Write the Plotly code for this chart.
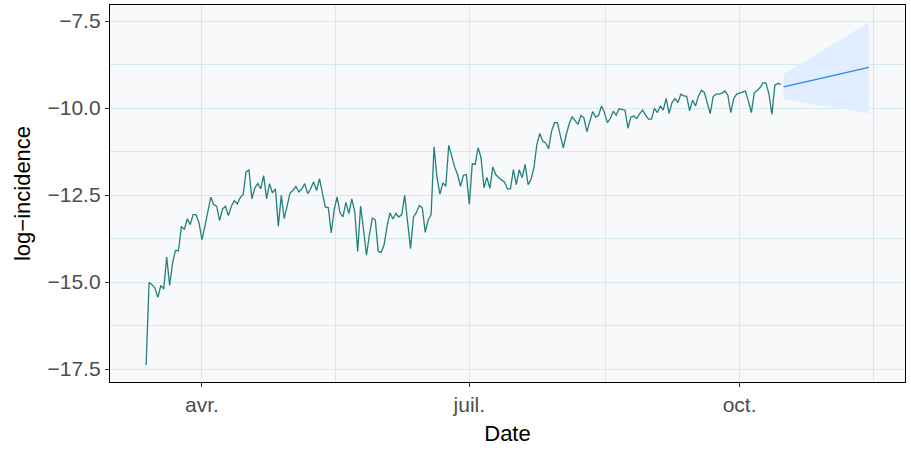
import pandas as pd
import plotly.graph_objects as go

# Daily log-incidence, one value per day starting on start_date
start_date = "2020-03-13"
log_incidence = [
    -17.38, -15.01, -15.08, -15.17, -15.44, -15.10, -15.20, -14.28, -15.10, -14.45,
    -14.09, -14.10, -13.40, -13.49, -13.18, -13.35, -13.06, -13.06, -13.30,
    -13.78, -13.40, -12.97, -12.56, -12.77, -12.82, -13.23, -12.90, -12.82, -13.09,
    -12.82, -12.66, -12.75, -12.58, -12.49, -11.84, -11.78, -12.61, -12.29, -12.17,
    -12.32, -11.94, -12.61, -12.17, -12.44, -12.32, -13.40, -12.51, -13.18, -12.77,
    -12.44, -12.36, -12.25, -12.41, -12.32, -12.17, -12.46, -12.32, -12.12, -12.37,
    -12.03, -12.44, -12.85, -12.86, -13.59, -12.92, -12.55, -13.01, -13.13, -12.71,
    -13.03, -12.61, -12.97, -14.12, -12.82, -13.49, -14.23, -13.64, -13.16, -13.21,
    -14.12, -14.15, -13.93, -13.40, -13.01, -13.19, -13.03, -13.13, -13.06, -12.51,
    -13.21, -14.04, -13.13, -13.00, -12.80, -12.87, -13.57, -13.21, -13.06, -11.11,
    -12.00, -12.47, -12.15, -12.25, -11.07, -11.38, -11.69, -11.91, -12.25, -11.93,
    -11.91, -12.77, -11.60, -11.62, -11.14, -11.43, -12.29, -11.99, -12.31, -11.69,
    -11.91, -12.00, -12.07, -12.13, -12.32, -12.32, -11.77, -12.20, -11.77, -12.00,
    -11.62, -12.20, -12.05, -11.72, -11.04, -10.73, -10.95, -11.00, -11.17, -10.66,
    -10.42, -10.42, -10.80, -11.14, -10.76, -10.45, -10.25, -10.35, -10.47, -10.21,
    -10.28, -10.68, -10.37, -10.10, -10.26, -10.21, -9.94, -10.13, -10.42, -10.30,
    -10.09, -10.20, -10.02, -10.03, -10.06, -10.58, -10.26, -10.23, -10.30, -10.16,
    -10.06, -10.20, -10.32, -10.32, -10.01, -10.13, -9.94, -10.06, -9.72, -10.15,
    -9.84, -9.73, -9.84, -9.60, -9.65, -9.66, -10.08, -9.77, -9.94, -9.65,
    -9.49, -9.55, -9.84, -10.16, -9.67, -9.60, -9.60, -9.57, -9.51, -9.63,
    -10.13, -9.73, -9.60, -9.57, -9.55, -9.51, -9.80, -10.13, -9.57, -9.48,
    -9.41, -9.27, -9.28, -9.60, -10.18, -9.34, -9.29, -9.32,
]

# 30-day forecast: central estimate and interval bounds
forecast_dates = ["2020-10-16", "2020-11-14"]
forecast_mean = [-9.39, -8.83]
forecast_lower = [-9.75, -10.15]
forecast_upper = [-9.03, -7.53]

# Axis breaks
x_tick_dates = ["2020-04-01", "2020-07-01", "2020-10-01"]
x_tick_labels = ["avr.", "juil.", "oct."]
x_minor_dates = ["2020-05-16 12:00", "2020-08-16 12:00", "2020-11-15 12:00"]
y_tick_values = [-17.5, -15.0, -12.5, -10.0, -7.5]
y_minor_values = [-16.25, -13.75, -11.25, -8.75]

dates = pd.date_range(start_date, periods=len(log_incidence), freq="D")
fc_dates = pd.to_datetime(forecast_dates)

# 5% padding around the data, on both axes
x_lo, x_hi = dates[0], fc_dates[-1]
x_pad = (x_hi - x_lo) * 0.05
y_lo = min(min(log_incidence), min(forecast_lower))
y_hi = max(max(log_incidence), max(forecast_upper))
y_pad = (y_hi - y_lo) * 0.05

grid_col = "#D5EBEB"
font_family = "Liberation Sans, Arial, sans-serif"

fig = go.Figure()

fig.add_trace(go.Scatter(
    x=list(fc_dates) + list(fc_dates[::-1]),
    y=forecast_upper + forecast_lower[::-1],
    fill="toself",
    fillcolor="rgba(221,236,255,0.85)",
    line=dict(width=0),
    mode="lines",
    hoverinfo="skip",
    showlegend=False,
))

fig.add_trace(go.Scatter(
    x=dates, y=log_incidence,
    mode="lines",
    line=dict(color="#267F7F", width=1.3),
    showlegend=False,
))

fig.add_trace(go.Scatter(
    x=fc_dates, y=forecast_mean,
    mode="lines",
    line=dict(color="#2E86E6", width=1.3),
    showlegend=False,
))

axis_common = dict(
    showline=True, linecolor="black", linewidth=1.3, mirror=True,
    ticks="outside", ticklen=4, tickwidth=1, tickcolor="#333333",
    gridcolor=grid_col, gridwidth=1,
    zeroline=False,
    tickfont=dict(family=font_family, size=21, color="#4D4D4D"),
)

fig.update_xaxes(
    **axis_common,
    range=[x_lo - x_pad, x_hi + x_pad],
    tickmode="array", tickvals=pd.to_datetime(x_tick_dates), ticktext=x_tick_labels,
    minor=dict(tickmode="array", tickvals=pd.to_datetime(x_minor_dates),
               showgrid=True, gridcolor=grid_col, gridwidth=1, ticks=""),
    title=dict(text="Date", font=dict(family=font_family, size=22, color="black"),
               standoff=10),
)

fig.update_yaxes(
    **axis_common,
    range=[y_lo - y_pad, y_hi + y_pad],
    tickmode="array", tickvals=y_tick_values, tickformat=".1f",
    minor=dict(tickmode="array", tickvals=y_minor_values,
               showgrid=True, gridcolor=grid_col, gridwidth=1, ticks=""),
    title=dict(text="log\u2212incidence", font=dict(family=font_family, size=22, color="black"),
               standoff=10),
)

fig.update_layout(
    width=911, height=450,
    margin=dict(l=110, r=6, t=5, b=68),
    paper_bgcolor="white",
    plot_bgcolor="#F7F9FB",
    font=dict(family=font_family),
)

fig.write_html("out.html")
